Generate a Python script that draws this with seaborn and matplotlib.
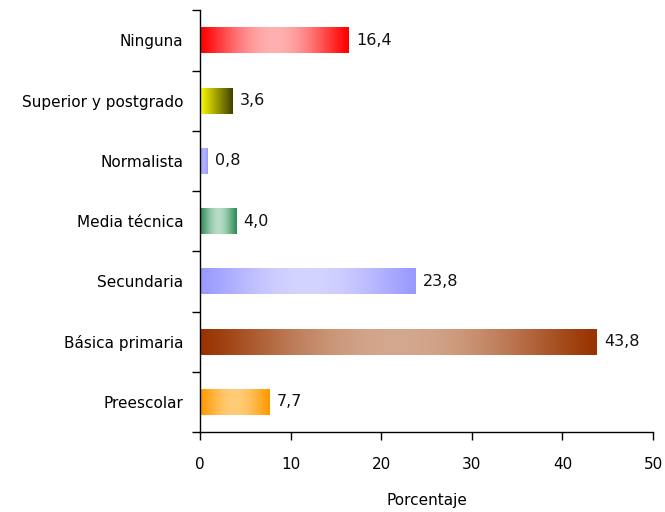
import numpy as np
import matplotlib
matplotlib.use('Agg')
import matplotlib.pyplot as plt
import matplotlib.colors as mcolors
import seaborn as sns
import pandas as pd

sns.set_style('white')
plt.rcParams['font.family'] = ['DejaVu Sans']
plt.rcParams['font.size'] = 11

categories = ['Ninguna', 'Superior y postgrado', 'Normalista', 'Media técnica',
              'Secundaria', 'Básica primaria', 'Preescolar']
values = [16.4, 3.6, 0.8, 4.0, 23.8, 43.8, 7.7]
labels = ['16,4', '3,6', '0,8', '4,0', '23,8', '43,8', '7,7']

# (edge colour, middle colour, mode)
gradients = [
    ('#ff0000', '#ffb0b0', 'sym'),
    ('#ffff00', '#404000', 'lin'),
    ('#9999ff', '#b0b0ff', 'sym'),
    ('#2e8b57', '#b5dcc4', 'sym'),
    ('#9999ff', '#d4d4ff', 'sym'),
    ('#993300', '#d4a88e', 'sym'),
    ('#ff9900', '#ffcc77', 'sym'),
]

df = pd.DataFrame({'cat': categories, 'val': values})

fig = plt.figure(figsize=(6.65, 5.12), dpi=100)
ax = fig.add_axes([0.3008, 0.156, 0.6812, 0.824])
sns.barplot(data=df, x='val', y='cat', orient='h', width=0.43, ax=ax,
            color='white', edgecolor='none')

for patch, (c0, c1, mode), lab in zip(ax.patches, gradients, labels):
    x0, y0 = patch.get_x(), patch.get_y()
    w, h = patch.get_width(), patch.get_height()
    t = np.linspace(0, 1, 256)
    if mode == 'sym':
        f = np.sin(np.pi * t) ** 1.2
    else:
        f = t
    a = np.array(mcolors.to_rgb(c0))
    b = np.array(mcolors.to_rgb(c1))
    img = a[None, :] + (b - a)[None, :] * f[:, None]
    ax.imshow(img[None, :, :], extent=[x0, x0 + w, y0 + h, y0], aspect='auto',
              interpolation='bilinear', zorder=2)
    ax.text(x0 + w + 0.8, y0 + h / 2, lab, va='center', ha='left',
            fontsize=11.5, color='#111111')

n = len(categories)
ax.set_xlim(0, 50)
ax.set_ylim(n - 0.5, -0.5)
ax.set_xticks([0, 10, 20, 30, 40, 50])
ax.set_yticks(np.arange(n))
ax.set_yticklabels(categories)
ax.set_yticks(np.arange(n + 1) - 0.5, minor=True)
ax.tick_params(axis='y', which='major', left=False, length=0, pad=12,
               labelsize=11, labelcolor='black')
ax.tick_params(axis='y', which='minor', left=True, length=6, width=1,
               direction='out', color='black')
ax.tick_params(axis='x', bottom=True, length=6, width=1, direction='out',
               pad=12, labelsize=11, labelcolor='black', color='black')
ax.set_xlabel('Porcentaje', fontsize=11, labelpad=15, color='black')
ax.set_ylabel('')

for s in ['top', 'right']:
    ax.spines[s].set_visible(False)
for s in ['left', 'bottom']:
    ax.spines[s].set_color('black')
    ax.spines[s].set_linewidth(1)

fig.savefig('out.png', dpi=100, facecolor='white')
